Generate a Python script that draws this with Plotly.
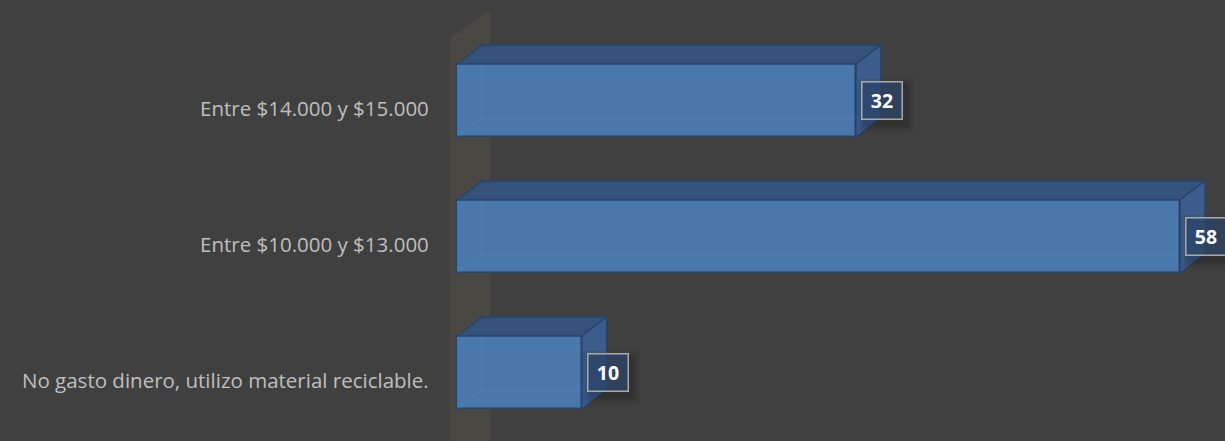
import plotly.graph_objects as go

categories = ["No gasto dinero, utilizo material reciclable.",
              "Entre $10.000 y $13.000",
              "Entre $14.000 y $15.000"]
values = [10, 58, 32]

W, H = 1225, 441
PX_PER_UNIT = 12.465
ML = 440
X0 = -(457 - ML) / PX_PER_UNIT
X1 = X0 + (W - ML) / PX_PER_UNIT
ROW_PX = 136
Y_TOP = 2 + 100.5 / ROW_PX
Y_BOT = -(H - 372.5) / ROW_PX

BAR_W = 73 / ROW_PX
DX = 25 / PX_PER_UNIT
DY = 19 / ROW_PX

BG = "#404040"
FRONT = "#4a77ac"
TOP = "#35527b"
SIDE = "#3c5d8c"
EDGE = "#26436b"

fig = go.Figure()
ypos = list(range(len(categories)))

fig.add_trace(go.Bar(
    x=values, y=ypos, orientation="h", width=BAR_W,
    marker=dict(color=FRONT, line=dict(color=EDGE, width=1.5)),
    hoverinfo="skip", showlegend=False,
))

shapes = []
def px2x(px):
    return X0 + (px - ML) / PX_PER_UNIT
def py2y(py):
    return Y_TOP - py / ROW_PX

# side wall
wx0, wx1 = px2x(450), px2x(490)
shapes.append(dict(type="path", xref="x", yref="y", layer="below",
                   path=f"M {wx0},{py2y(38)} L {wx1},{py2y(10)} L {wx1},{py2y(460)} L {wx0},{py2y(470)} Z",
                   fillcolor="#4a4843", line=dict(width=0)))

for yc, v in zip(ypos, values):
    yb = yc - BAR_W / 2
    yt = yc + BAR_W / 2
    # faint hidden back edges
    shapes.append(dict(type="path", xref="x", yref="y", layer="above",
                       path=f"M {DX},{yt+DY} L {DX},{yb+DY} L {v+DX},{yb+DY} M {DX},{yb+DY} L 0,{yb}",
                       line=dict(color="rgba(120,160,210,0.25)", width=1)))
    # top face
    shapes.append(dict(type="path", xref="x", yref="y", layer="above",
                       path=f"M 0,{yt} L {DX},{yt+DY} L {v+DX},{yt+DY} L {v},{yt} Z",
                       fillcolor=TOP, line=dict(color=EDGE, width=1.5)))
    # side face
    shapes.append(dict(type="path", xref="x", yref="y", layer="above",
                       path=f"M {v},{yb} L {v+DX},{yb+DY} L {v+DX},{yt+DY} L {v},{yt} Z",
                       fillcolor=SIDE, line=dict(color=EDGE, width=1.5)))
    # soft shadow behind the value box
    for grow, alpha in [(8, 0.06), (5, 0.08), (2, 0.10)]:
        shapes.append(dict(type="rect", xref="x", yref="y", layer="above",
                           xsizemode="pixel", ysizemode="pixel", xanchor=v, yanchor=yc,
                           x0=5 + 4 - grow, x1=5 + 41 + 4 + grow,
                           y0=-19 - 5 - grow, y1=19 - 5 + grow,
                           fillcolor=f"rgba(0,0,0,{alpha})", line=dict(width=0)))

annotations = []
for yc, v in zip(ypos, values):
    annotations.append(dict(
        x=v, y=yc, xref="x", yref="y", xanchor="left", yanchor="middle",
        xshift=5, text=f"<b>{v}</b>", showarrow=False,
        font=dict(family="Open Sans", size=19.5, color="#ffffff"),
        bgcolor="rgba(48,72,110,0.7)", bordercolor="#a9a9a9", borderwidth=1.5,
        borderpad=1, width=37, height=34, align="center",
    ))
for yc, cat in zip(ypos, categories):
    annotations.append(dict(
        x=0, y=yc, xref="paper", yref="y", xanchor="right", yanchor="middle",
        xshift=-9, yshift=-7, text=cat, showarrow=False,
        font=dict(family="Open Sans", size=20.5, color="#bfbfbf"),
    ))

fig.update_layout(
    width=W, height=H,
    margin=dict(l=ML, r=0, t=0, b=0),
    paper_bgcolor=BG, plot_bgcolor=BG,
    shapes=shapes, annotations=annotations,
    xaxis=dict(range=[X0, X1], visible=False, fixedrange=True),
    yaxis=dict(range=[Y_BOT, Y_TOP], visible=False, fixedrange=True),
    bargap=0,
)

fig.write_html("out.html", config={"displayModeBar": False},
               post_script="document.body.style.margin='0';")
